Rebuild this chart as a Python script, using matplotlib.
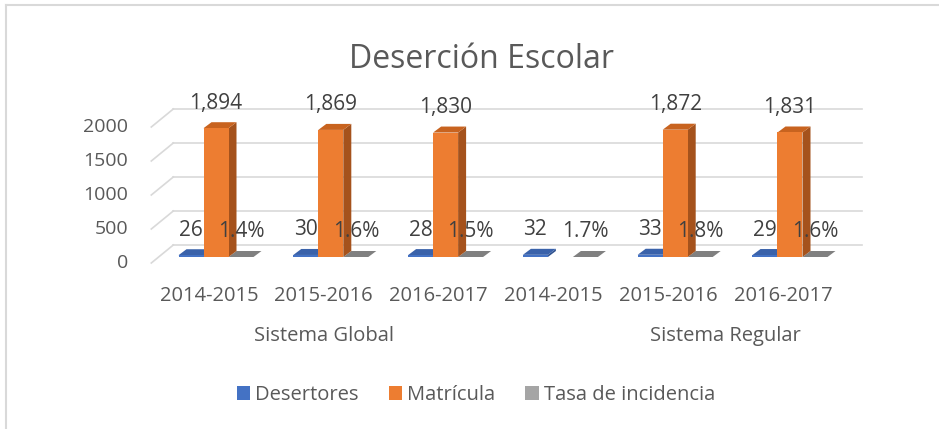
import matplotlib
matplotlib.use("Agg")
import matplotlib.pyplot as plt
from matplotlib.patches import Polygon, Patch
from matplotlib.lines import Line2D
import numpy as np

# ---------------- data ----------------
categories = ["2014-2015", "2015-2016", "2016-2017", "2014-2015", "2015-2016", "2016-2017"]
groups = ["Sistema Global", "Sistema Regular"]
group_spans = [(0, 2), (4, 5)]
desertores = [26, 30, 28, 32, 33, 29]
matricula = [1894, 1869, 1830, np.nan, 1872, 1831]
tasa = [0.014, 0.016, 0.015, 0.017, 0.018, 0.016]
series_names = ["Desertores", "Matrícula", "Tasa de incidencia"]
yticks = [0, 500, 1000, 1500, 2000]

# ---------------- style ----------------
FONT = "Open Sans"
plt.rcParams['font.family'] = [FONT, 'DejaVu Sans']
TXT = "#595959"
LBL = "#404040"
GRID = "#d9d9d9"
face = {"Desertores": ("#4472C4", "#2F528F", "#3A62AA"),
        "Matrícula": ("#ED7D31", "#A5521C", "#C8631F"),
        "Tasa de incidencia": ("#A5A5A5", "#6E6E6E", "#808080")}
# (front, side, top)

W_PX, H_PX = 939, 429
fig = plt.figure(figsize=(W_PX / 100, H_PX / 100), dpi=100)
fig.patch.set_facecolor("white")

# axes: x index 0 -> 216px, 5 -> 790px ; y 0 -> 257px from top, 2000 -> 121px
ppx_target = (790 - 216) / 5
left_px = 216 - 0.5 * ppx_target
right_px = 790 + 0.5 * ppx_target
ax = fig.add_axes([left_px / W_PX, (H_PX - 257) / H_PX,
                   (right_px - left_px) / W_PX, 136 / H_PX])
ax.set_xlim(-0.5, 5.5)
ax.set_ylim(0, 2000)
ax.axis("off")

ppx = ax.bbox.width / 6.0
ppy = ax.bbox.height / 2000.0

def px2x(p):
    return p / ppx

def px2y(p):
    return p / ppy

# wall offsets (pixels)
bx, by = px2x(14.7), px2y(12)     # back wall
fx, fy = px2x(-7.3), px2y(-6)     # front edge of floor
dx, dy = px2x(8), px2y(6)         # bar depth

# gridlines on back wall + left wall diagonals
for v in yticks:
    ax.add_line(Line2D([-0.5 + bx, 5.5 + bx], [v + by, v + by], color=GRID,
                       lw=1.2, clip_on=False, zorder=1))
    ax.add_line(Line2D([-0.5 + fx, -0.5 + bx], [v + fy, v + by], color=GRID,
                       lw=1.2, clip_on=False, zorder=1))
    ax.text(-0.5 + fx - px2x(23), v + fy, f"{v}", ha="right", va="center",
            fontsize=14, color=TXT)

bw = px2x(25)
offsets = {"Desertores": -bw, "Matrícula": 0.0, "Tasa de incidencia": bw}
values = {"Desertores": desertores, "Matrícula": matricula, "Tasa de incidencia": tasa}

def draw_bar(x, v, name, z):
    fr, sd, tp = face[name]
    x0, x1 = x - bw / 2, x + bw / 2
    side = Polygon([(x1, 0), (x1 + dx, dy), (x1 + dx, v + dy), (x1, v)],
                   closed=True, facecolor=sd, edgecolor="none", zorder=z, clip_on=False)
    top = Polygon([(x0, v), (x0 + dx, v + dy), (x1 + dx, v + dy), (x1, v)],
                  closed=True, facecolor=tp, edgecolor="none", zorder=z, clip_on=False)
    ax.add_patch(side)
    ax.add_patch(top)
    ax.bar([x], [v], width=bw, color=fr, zorder=z + 0.1, clip_on=False, linewidth=0)

for i in range(len(categories)):
    order = ["Desertores", "Tasa de incidencia", "Matrícula"]
    for k, name in enumerate(order):
        v = values[name][i]
        if np.isnan(v):
            continue
        draw_bar(i + offsets[name], v, name, 2 + k)

# data labels
DL = 15
for i in range(len(categories)):
    ax.text(i + offsets["Desertores"], desertores[i] + px2y(25), f"{desertores[i]}",
            ha="center", va="center", fontsize=DL, color=LBL, zorder=10)
    if not np.isnan(matricula[i]):
        ax.text(i, matricula[i] + px2y(25), f"{int(matricula[i]):,}",
                ha="center", va="center", fontsize=DL, color=LBL, zorder=10)
    ax.text(i + offsets["Tasa de incidencia"], tasa[i] + px2y(25), f"{tasa[i]*100:.1f}%",
            ha="center", va="center", fontsize=DL, color=LBL, zorder=10)

# category labels
for i, c in enumerate(categories):
    ax.text(i - px2x(7), px2y(-39), c, ha="center", va="center", fontsize=14.5, color=TXT)
for g, (a, b) in zip(groups, group_spans):
    ax.text((a + b) / 2 - px2x(7), px2y(-79), g, ha="center", va="center",
            fontsize=14.5, color=TXT)

# title
fig.text(481.5 / W_PX, 1 - 68 / H_PX, "Deserción Escolar", ha="center", va="baseline",
         fontsize=23, color=TXT)

# legend
handles = [Patch(facecolor=face[n][0], edgecolor="none", label=n) for n in series_names]
fig.legend(handles=handles, loc="center", bbox_to_anchor=(476 / W_PX, 1 - 395 / H_PX),
           ncol=3, frameon=False, fontsize=14.5, handlelength=0.65, handleheight=0.65,
           handletextpad=0.25, columnspacing=1.5, labelcolor=TXT)

# chart border (top + left visible)
fig.add_artist(Line2D([5.5 / W_PX, 1], [1 - 4.5 / H_PX, 1 - 4.5 / H_PX],
                      transform=fig.transFigure, color=GRID, lw=1.5))
fig.add_artist(Line2D([5.5 / W_PX, 5.5 / W_PX], [0, 1 - 4.5 / H_PX],
                      transform=fig.transFigure, color=GRID, lw=1.5))

fig.savefig("out.png", dpi=100, facecolor="white")
